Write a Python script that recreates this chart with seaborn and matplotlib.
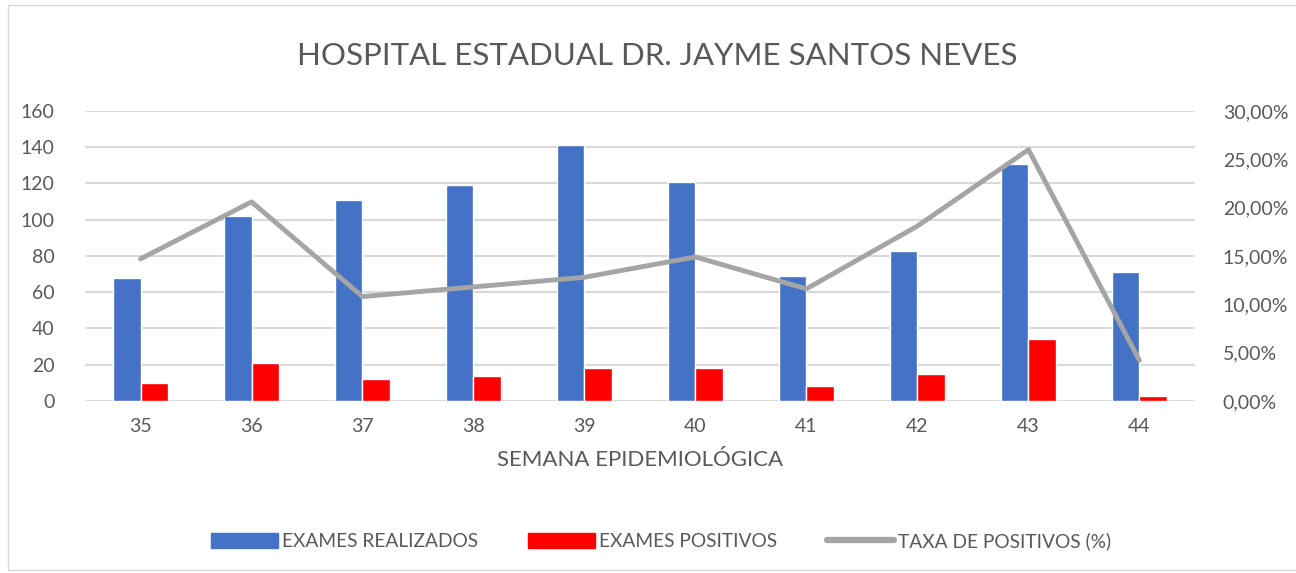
import pandas as pd
import numpy as np
import seaborn as sns
import matplotlib.pyplot as plt
from matplotlib.patches import Patch, Rectangle
from matplotlib.lines import Line2D
from matplotlib.ticker import FuncFormatter

#Data
weeks = ['35', '36', '37', '38', '39', '40', '41', '42', '43', '44']
exames_realizados = [68, 102, 111, 119, 141, 121, 69, 83, 131, 71]
exames_positivos = [10, 21, 12, 14, 18, 18, 8, 15, 34, 3]
taxa_positivos = [0.147, 0.206, 0.108, 0.118, 0.128, 0.149, 0.116, 0.181, 0.260, 0.042]

sns.set_theme(style='white')
plt.rcParams['font.family'] = ['Lato', 'DejaVu Sans']
text_color = '#595959'

bars_df = pd.DataFrame({
    'semana': weeks * 2,
    'valor': exames_realizados + exames_positivos,
    'serie': ['EXAMES REALIZADOS'] * len(weeks) + ['EXAMES POSITIVOS'] * len(weeks),
})
line_df = pd.DataFrame({'semana': weeks, 'taxa': taxa_positivos})

fig = plt.figure(figsize=(12.96, 5.73), dpi=100)
ax = fig.add_axes([0.0656, 0.3002, 0.8564, 0.5061])

sns.barplot(data=bars_df, x='semana', y='valor', hue='serie', ax=ax,
            palette=['#4472c4', '#ff0000'], width=0.49, gap=0, saturation=1,
            legend=False)
ax.set_ylim(0, 160)
ax.set_yticks(range(0, 161, 20))
ax.set_xlim(-0.5, len(weeks) - 0.5)
ax.yaxis.grid(True, color='#d9d9d9', lw=1.5)
ax.set_axisbelow(True)
for s in ax.spines.values():
    s.set_visible(False)
ax.tick_params(axis='both', length=0, labelsize=14, colors=text_color)
ax.tick_params(axis='y', pad=22)
ax.tick_params(axis='x', pad=12)
ax.set_ylabel('')
ax.set_xlabel('SEMANA EPIDEMIOLÓGICA', fontsize=16, color=text_color, labelpad=11)

ax2 = ax.twinx()
sns.lineplot(data=line_df, x='semana', y='taxa', ax=ax2, color='#a5a5a5',
             lw=3.5, sort=False)
ax2.set_ylim(0, 0.30)
ax2.set_yticks(np.arange(0, 0.301, 0.05))
ax2.yaxis.set_major_formatter(FuncFormatter(lambda v, p: f'{v*100:.2f}%'.replace('.', ',')))
for s in ax2.spines.values():
    s.set_visible(False)
ax2.tick_params(axis='y', length=0, labelsize=14, colors=text_color, pad=20)
ax2.set_ylabel('')
ax2.set_xlim(-0.5, len(weeks) - 0.5)

fig.text(0.507, 0.903, 'HOSPITAL ESTADUAL DR. JAYME SANTOS NEVES', ha='center', va='center',
         fontsize=22.5, color=text_color)

handles = [Patch(color='#4472c4'), Patch(color='#ff0000'),
           Line2D([], [], color='#a5a5a5', lw=4.5)]
labels = ['EXAMES REALIZADOS', 'EXAMES POSITIVOS', 'TAXA DE POSITIVOS (%)']
fig.legend(handles, labels, loc='center', bbox_to_anchor=(0.51, 0.055), ncol=3,
           frameon=False, fontsize=13.8, labelcolor=text_color, handlelength=3.5,
           handleheight=0.85, handletextpad=0.2, columnspacing=2.6)

#light frame around the chart
fig.add_artist(Rectangle((0.006, 0.005), 1.0, 0.987, transform=fig.transFigure,
                         fill=False, edgecolor='#d9d9d9', lw=1))

fig.savefig('out.png', dpi=100)
